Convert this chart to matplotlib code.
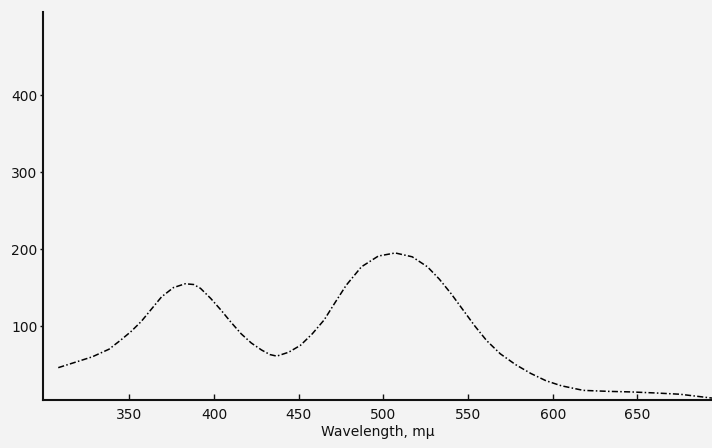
import matplotlib
matplotlib.use("Agg")
import matplotlib.pyplot as plt

wavelength = [308, 318, 328, 338, 345, 351, 357, 363, 369, 376, 383, 388, 392, 398, 404, 410, 416, 422, 428, 433, 437, 444, 451, 458, 465, 471, 478, 487, 497, 507, 517, 526, 533, 540, 547, 554, 561, 569, 578, 587, 596, 605, 618, 633, 646, 660, 675, 694]
absorb = [46, 53, 60, 70, 82, 93, 106, 122, 138, 150, 155, 154, 149, 136, 121, 105, 90, 78, 69, 63, 61, 66, 75, 90, 108, 129, 153, 177, 191, 195, 190, 177, 161, 142, 121, 100, 81, 64, 50, 38.5, 29, 22.5, 16.5, 15.2, 14.5, 13.2, 11.5, 6.5]

xticks = [350, 400, 450, 500, 550, 600, 650]
yticks = [100, 200, 300, 400]

fig = plt.figure(figsize=(7.12, 4.48), dpi=100)
bg = "#f3f3f3"
fig.patch.set_facecolor(bg)
ax = fig.add_axes([43/712, 48/448, 669/712, 388/448])
ax.set_facecolor(bg)

ax.plot(wavelength, absorb, color="black", lw=1.1, linestyle=(0, (4, 1.5, 1, 1.5)))

ax.set_xlim(299, 694)
ax.set_ylim(4, 508)
ax.set_xticks(xticks)
ax.set_yticks(yticks)
for s in ["top", "right"]:
    ax.spines[s].set_visible(False)
for s in ["left", "bottom"]:
    ax.spines[s].set_linewidth(1.5)
    ax.spines[s].set_color("#111111")
ax.tick_params(axis="x", direction="in", length=4, width=1, labelsize=10, pad=6, colors="#111111")
ax.tick_params(axis="y", direction="out", length=2, width=1, labelsize=10, pad=2, colors="#111111")
ax.set_xlabel("Wavelength, mμ", fontsize=10, labelpad=2, color="#111111")

fig.savefig("out.png", dpi=100, facecolor=bg)
